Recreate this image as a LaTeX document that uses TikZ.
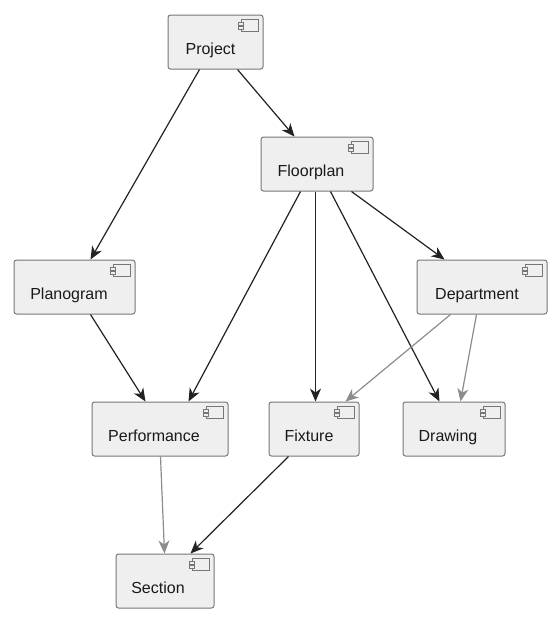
\documentclass[tikz,border=0pt]{standalone}
\usepackage{fontspec}
\setmainfont{Liberation Sans}
\usetikzlibrary{arrows.meta}
\definecolor{boxfill}{HTML}{EFEFEF}
\definecolor{boxline}{HTML}{777777}
\definecolor{edgedark}{HTML}{222222}
\definecolor{edgegray}{HTML}{8C8C8C}
\newcommand\boxtext[2]{\smash{\raisebox{-12pt}{\makebox[0pt]{\hspace*{#1}#2}}}}
\tikzset{
  x=1pt,y=-1pt,
  compbox/.style={draw=boxline,fill=boxfill,line width=1pt,rounded corners=2.5pt,inner sep=0pt,font=\fontsize{16}{18}\selectfont,text=black!90},
  edge/.style={draw=edgedark,line width=1.2pt,-{Stealth[length=13pt,width=11pt,inset=4pt]}},
  grayedge/.style={edge,draw=edgegray},
  iconbody/.style={draw=boxline,line width=0.8pt,fill=boxfill},
}
\newcommand\compicon[1]{%
  \draw[iconbody] ([shift={(-22pt,-5pt)}]#1.north east) rectangle ([shift={(-5pt,-17pt)}]#1.north east);
  \draw[iconbody] ([shift={(-25pt,-7.5pt)}]#1.north east) rectangle ([shift={(-20pt,-10.5pt)}]#1.north east);
  \draw[iconbody] ([shift={(-25pt,-12pt)}]#1.north east) rectangle ([shift={(-20pt,-15pt)}]#1.north east);
}
\begin{document}
\begin{tikzpicture}
\useasboundingbox (0,0) rectangle (560,625);
\node[compbox,minimum width=95pt,minimum height=54pt] (project) at (215.5,42) {\boxtext{-10pt}{Project}};
\node[compbox,minimum width=112pt,minimum height=54pt] (floorplan) at (317,164) {\boxtext{-12pt}{Floorplan}};
\node[compbox,minimum width=121pt,minimum height=54pt] (planogram) at (74.5,287) {\boxtext{-11pt}{Planogram}};
\node[compbox,minimum width=130pt,minimum height=54pt] (department) at (482,287) {\boxtext{-10pt}{Department}};
\node[compbox,minimum width=136pt,minimum height=54pt] (performance) at (160,429) {\boxtext{-12pt}{Performance}};
\node[compbox,minimum width=90pt,minimum height=54pt] (fixture) at (314,429) {\boxtext{-10pt}{Fixture}};
\node[compbox,minimum width=102pt,minimum height=54pt] (drawing) at (454,429) {\boxtext{-12pt}{Drawing}};
\node[compbox,minimum width=98pt,minimum height=54pt] (section) at (165,581) {\boxtext{-14pt}{Section}};
\foreach \n in {project,floorplan,planogram,department,performance,fixture,drawing,section}{\compicon{\n}}
\draw[edge] ([xshift=32pt]project.south west) -- ([xshift=77pt]planogram.north west);
\draw[edge] ([xshift=70pt]project.south west) -- ([xshift=34pt]floorplan.north west);
\draw[edge] ([xshift=40pt]floorplan.south west) -- ([xshift=97pt]performance.north west);
\draw[edge] ([xshift=55pt]floorplan.south west) -- ([xshift=47pt]fixture.north west);
\draw[edge] ([xshift=70pt]floorplan.south west) -- ([xshift=37pt]drawing.north west);
\draw[edge] ([xshift=91pt]floorplan.south west) -- ([xshift=28pt]department.north west);
\draw[grayedge] ([xshift=34pt]department.south west) -- ([xshift=77pt]fixture.north west);
\draw[grayedge] ([xshift=60pt]department.south west) -- ([xshift=58pt]drawing.north west);
\draw[edge] ([xshift=77pt]planogram.south west) -- ([xshift=54pt]performance.north west);
\draw[grayedge] ([xshift=69pt]performance.south west) -- ([xshift=49pt]section.north west);
\draw[edge] ([xshift=20pt]fixture.south west) -- ([xshift=75pt]section.north west);
\end{tikzpicture}
\end{document}
